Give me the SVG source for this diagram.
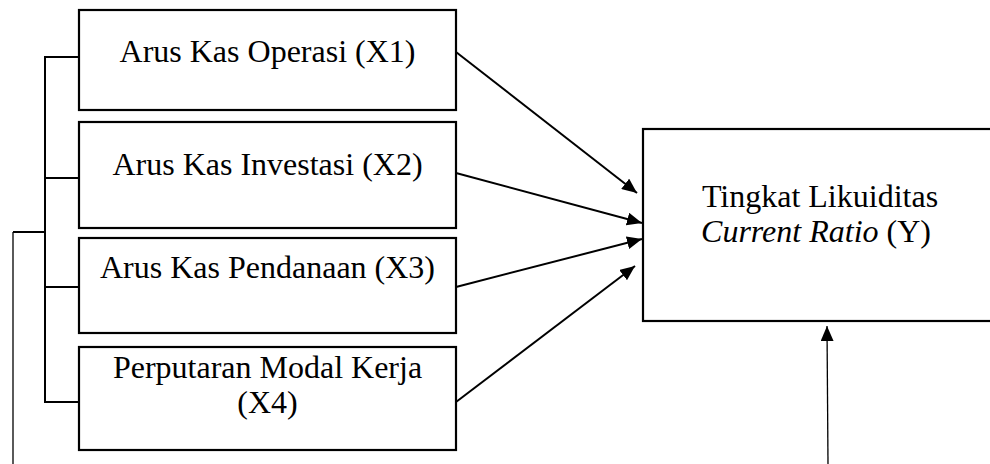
<svg xmlns="http://www.w3.org/2000/svg" width="990" height="464" viewBox="0 0 990 464">
<style>
.box{fill:#fff;stroke:#000;stroke-width:2.2}
.t{font-family:'Liberation Serif','Times New Roman',serif;font-size:32px;fill:#000;text-anchor:middle}
.ln{fill:none;stroke:#000;stroke-width:2}
.thin{fill:none;stroke:#000;stroke-width:1.3}
</style>
<defs>
<marker id="ah" refX="15" refY="6.5" markerWidth="15" markerHeight="13" markerUnits="userSpaceOnUse" orient="auto">
<path d="M0,0 L15,6.5 L0,13 Z" fill="#000"/>
</marker>
</defs>
<rect width="990" height="464" fill="#fff"/>
<g id="x1">
<rect class="box" x="79" y="10" width="377" height="100"/>
<text class="t" x="267.5" y="62">Arus Kas Operasi (X1)</text>
</g>
<g id="x2">
<rect class="box" x="79" y="122" width="377" height="106"/>
<text class="t" x="267.5" y="175">Arus Kas Investasi (X2)</text>
</g>
<g id="x3">
<rect class="box" x="79" y="238" width="377" height="95"/>
<text class="t" x="267.5" y="278">Arus Kas Pendanaan (X3)</text>
</g>
<g id="x4">
<rect class="box" x="79" y="347" width="377" height="103"/>
<text class="t" x="267.5" y="378">Perputaran Modal Kerja</text>
<text class="t" x="267.5" y="413">(X4)</text>
</g>
<g id="y">
<rect class="box" x="643" y="129" width="360" height="192"/>
<text class="t" x="820" y="207">Tingkat Likuiditas</text>
<text class="t" x="816" y="242"><tspan font-style="italic">Current Ratio</tspan> (Y)</text>
</g>
<g id="connectors">
<polyline class="ln" points="79,57 45,57 45,402 79,402"/>
<line class="ln" x1="45" y1="178" x2="79" y2="178"/>
<line class="ln" x1="45" y1="287" x2="79" y2="287"/>
<line class="ln" x1="45" y1="232" x2="13" y2="232"/>
<line class="thin" x1="13" y1="232" x2="13" y2="464"/>
<line class="ln" x1="456" y1="52" x2="637" y2="193" marker-end="url(#ah)"/>
<line class="ln" x1="456" y1="173" x2="642" y2="223" marker-end="url(#ah)"/>
<line class="ln" x1="456" y1="287" x2="642" y2="239" marker-end="url(#ah)"/>
<line class="ln" x1="456" y1="402" x2="635" y2="266" marker-end="url(#ah)"/>
<line class="thin" x1="828" y1="464" x2="827" y2="326" marker-end="url(#ah)"/>
</g>
</svg>
